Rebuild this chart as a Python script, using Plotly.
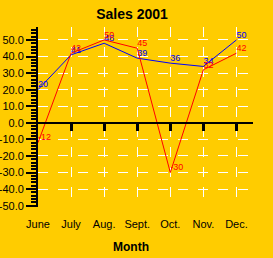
import plotly.graph_objects as go

months = ["June", "July", "Aug.", "Sept.", "Oct.", "Nov.", "Dec."]
series_blue = [20, 41, 48, 39, 36, 34, 50]
series_red = [-12, 42, 50, 45, -30, 32, 42]
y_ticks = [-50, -40, -30, -20, -10, 0, 10, 20, 30, 40, 50]
y_tick_text = ["%.1f" % v for v in y_ticks]
y_range = [-50.8, 57.8]
x_range = [0, 6.5]

BG = "#FFCC00"
xs = list(range(len(months)))

fig = go.Figure()
fig.add_trace(go.Scatter(
    x=xs, y=series_blue, mode="lines+text", line=dict(color="#0000FF", width=1),
    text=[str(v) for v in series_blue], textposition="top right",
    textfont=dict(family="Liberation Sans", size=9, color="#0000FF"), showlegend=False,
    cliponaxis=False))
fig.add_trace(go.Scatter(
    x=xs, y=series_red, mode="lines+text", line=dict(color="#FF0000", width=1),
    text=[str(v) for v in series_red], textposition="top right",
    textfont=dict(family="Liberation Sans", size=9, color="#FF0000"), showlegend=False,
    cliponaxis=False))
# helper trace so the overlay axes exist
fig.add_trace(go.Scatter(x=[None], y=[None], xaxis="x2", yaxis="y2", showlegend=False,
                         hoverinfo="skip"))

zero_pos = (0 - y_range[0]) / (y_range[1] - y_range[0])

fig.update_layout(
    width=273, height=258,
    margin=dict(l=38, r=20, t=27, b=51, autoexpand=False),
    paper_bgcolor=BG, plot_bgcolor=BG,
    title=dict(text="<b>Sales 2001</b>", x=132 / 273, xref="container", xanchor="center",
               y=1 - 14 / 258, yref="container", yanchor="middle",
               font=dict(family="Liberation Sans", size=14, color="black")),
    font=dict(family="Liberation Sans", size=11, color="black"),
    xaxis=dict(range=x_range, anchor="free", position=zero_pos, automargin=False,
               tickvals=xs[1:], showticklabels=False, ticks="outside", ticklen=7,
               tickwidth=3, tickcolor="black", showline=True, linecolor="black",
               linewidth=2, showgrid=False, zeroline=False),
    xaxis2=dict(range=x_range, overlaying="x", anchor="y", side="bottom", automargin=False,
                tickvals=xs, ticktext=months, ticks="", showline=False,
                showgrid=True, gridcolor="white", gridwidth=1, griddash="10px,10px",
                zeroline=False, ticklabelstandoff=9,
                tickfont=dict(family="Liberation Sans", size=11, color="black")),
    yaxis=dict(range=y_range, tickvals=y_ticks, ticktext=y_tick_text, automargin=False,
               ticks="outside", ticklen=10, tickwidth=2, tickcolor="black",
               showline=True, linecolor="black", linewidth=2, showgrid=False,
               zeroline=False, ticklabelstandoff=0,
               minor=dict(dtick=2, ticks="outside", ticklen=5, tickwidth=2,
                          tickcolor="black", showgrid=False),
               tickfont=dict(family="Liberation Sans", size=11, color="black")),
    yaxis2=dict(range=y_range, overlaying="y", anchor="x2", side="left", automargin=False,
                tickvals=y_ticks[1:], showticklabels=False, ticks="",
                showgrid=True, gridcolor="white", gridwidth=1, griddash="10px,10px",
                zeroline=False, showline=False),
    annotations=[dict(text="<b>Month</b>", x=(131 - 38) / 215, xref="paper",
                      y=(207 - 246.5) / 180, yref="paper", yanchor="middle",
                      xanchor="center", showarrow=False,
                      font=dict(family="Liberation Sans", size=12, color="black"))],
)

fig.write_html("out.html")
